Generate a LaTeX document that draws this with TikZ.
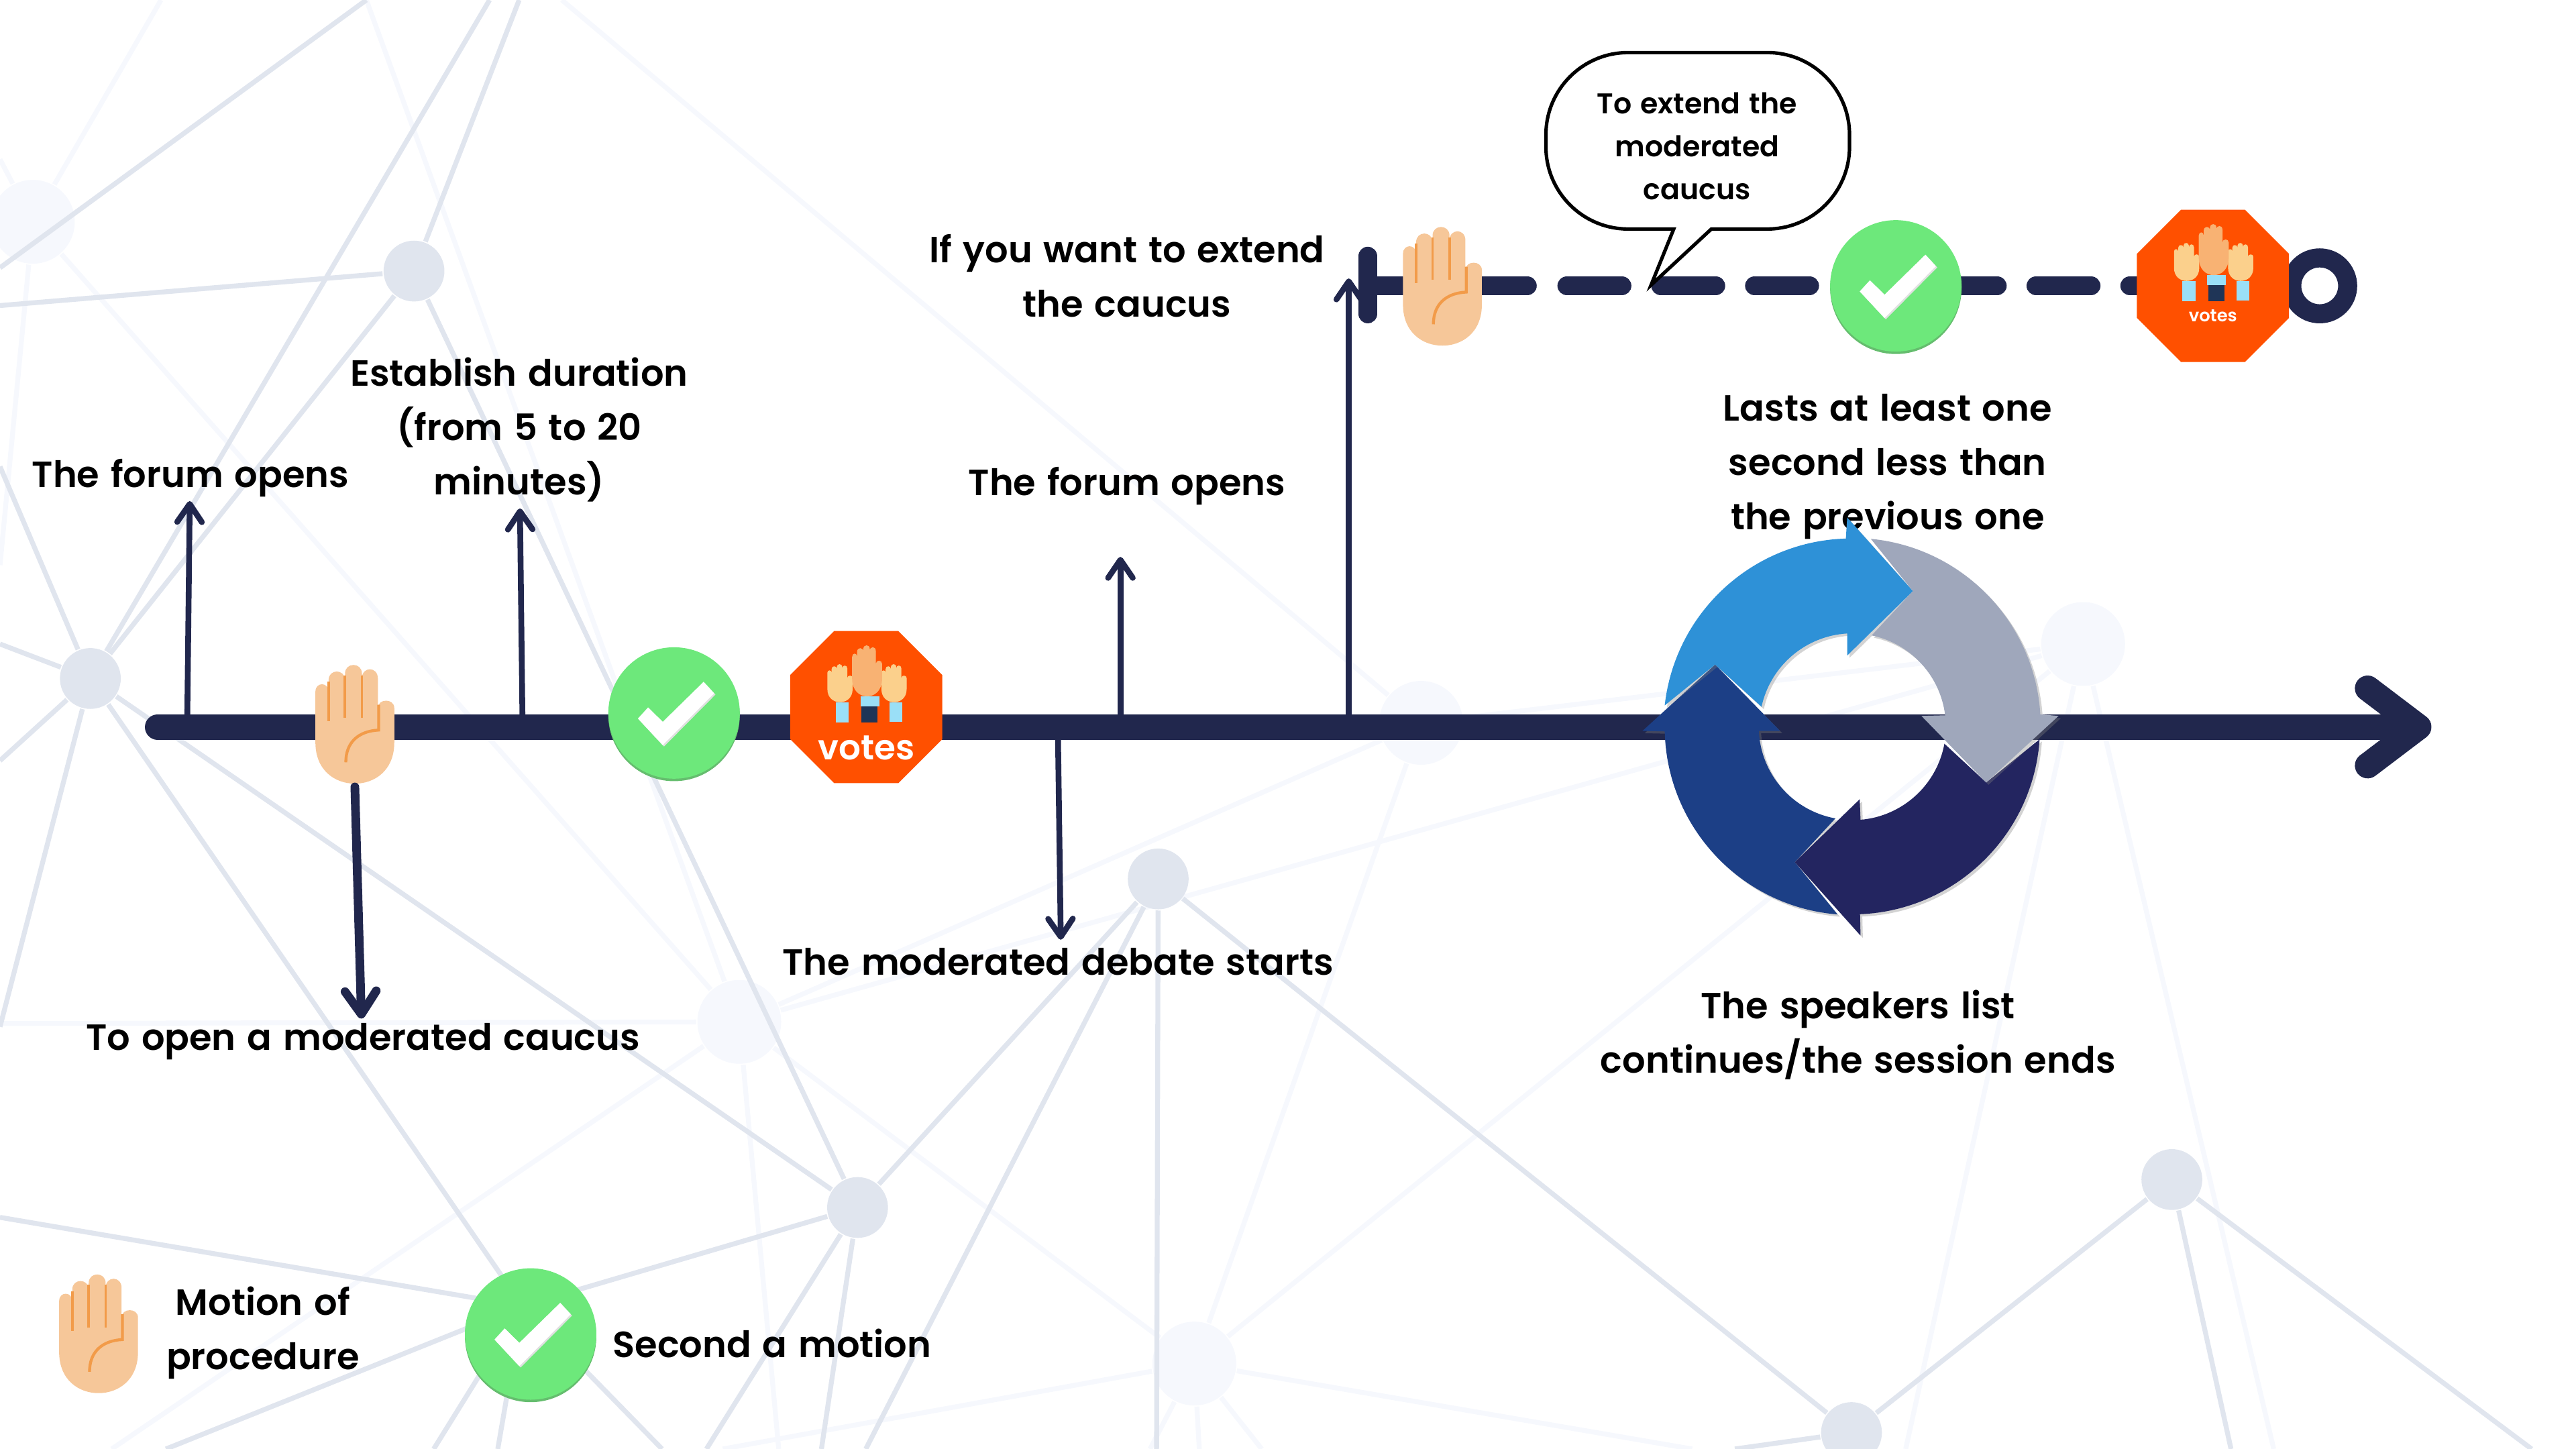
\documentclass[tikz,border=0pt]{standalone}
\usepackage{fontspec}
\setmainfont{Poppins}[UprightFont=* SemiBold,WordSpace=1.3]
\usetikzlibrary{arrows.meta,shadows}

\definecolor{netdark}{HTML}{E0E5EE}
\definecolor{netfaint}{HTML}{F6F8FD}
\definecolor{barnavy}{HTML}{21274D}
\definecolor{skin}{HTML}{F6C799}
\definecolor{skinline}{HTML}{F29B49}
\definecolor{okgreen}{HTML}{6DE87B}
\definecolor{okedge}{HTML}{65BD6E}
\definecolor{voteorange}{HTML}{FF5000}
\definecolor{handpale}{HTML}{FBD08C}
\definecolor{handtan}{HTML}{F8B273}
\definecolor{cuffblue}{HTML}{9ADFF7}
\definecolor{sleevenavy}{HTML}{1F3557}
\definecolor{wheelsky}{HTML}{2E91D7}
\definecolor{wheelgrey}{HTML}{9FA7BB}
\definecolor{wheelnavy}{HTML}{232560}
\definecolor{wheelblue}{HTML}{1C3F86}

\newcommand{\handpath}{(-24,11) -- (-24,-20) .. controls (-24,-26) and (-16,-26) .. (-16,-20) -- (-16,-27) .. controls (-16,-34) and (-6,-34) .. (-6,-27) -- (-6,-31) .. controls (-6,-38) and (4.3,-38) .. (4.3,-31) -- (4.3,-28) .. controls (4.3,-35.5) and (14,-35.5) .. (14,-28) -- (14,-10) .. controls (14,-16) and (24,-16) .. (24,-10) -- (24,11) .. controls (24,28) and (12,36) .. (0,36) .. controls (-12,36) and (-24,28) .. (-24,11) -- cycle}

\tikzset{
    netnode/.style={circle,fill=netdark,minimum size=.37cm,inner sep=0pt},
    faintnode/.style={circle,fill=netfaint,minimum size=.51cm,inner sep=0pt},
    netline/.style={netdark,line width=.85pt},
    faintline/.style={netfaint,line width=.85pt},
    mainbar/.style={barnavy,line width=4.43pt,line cap=round,-{Straight Barb[round,length=3.1mm,width=4.7mm]}},
    thinarrow/.style={barnavy,line width=1pt,-{Straight Barb[round,length=1.1mm,width=1.5mm]}},
    thickarrow/.style={barnavy,line width=1.5pt,line cap=round,-{Straight Barb[round,length=1.4mm,width=1.9mm]}},
    dashbar/.style={barnavy,line width=3.3pt,line cap=round},
    bigtext/.style={align=center,font=\fontsize{6.3}{9.4}\selectfont},
    smalltext/.style={align=center,font=\fontsize{4.95}{7.4}\selectfont},
    wheelpart/.style={drop shadow={shadow xshift=.4pt,shadow yshift=-.4pt,opacity=.35}},
    pics/handsign/.style={code={
        \fill[skin] \handpath;
        \draw[skinline,line width=.45pt] (-16,-26) -- (-16,-2);
        \draw[skinline,line width=.45pt] (-6,-30) -- (-6,-4);
        \draw[skinline,line width=.45pt] (4.3,-30) -- (4.3,-4);
        \draw[skinline,line width=.5pt] (14.5,-12) -- (14.5,3.4) .. controls (2,4) and (-5.5,11) .. (-5.5,23);
    }},
    pics/checksign/.style={code={
        \fill[okedge] (0,1.5) circle [radius=40];
        \fill[okgreen] (0,0) circle [radius=40];
        \fill[black!12] (18.7,-18.2) -- (25.2,-11.2) -- (-6.1,20.4) -- (-21.2,4.2) -- (-15,-2.6) -- (-6.1,6.2) -- cycle;
        \fill[white] (18,-19) -- (24.4,-12) -- (-6.9,19.6) -- (-22,3.4) -- (-15.8,-3.4) -- (-6.9,5.4) -- cycle;
    }},
    pics/votesign/.style args={#1/#2}{code={
        \fill[voteorange] (-19.5,-46.3) -- (19.5,-46.3) -- (46.3,-19.5) -- (46.3,19.5) -- (19.5,46.3) -- (-19.5,46.3) -- (-46.3,19.5) -- (-46.3,-19.5) -- cycle;
        \fill[cuffblue] (-18.6,-3) rectangle (-10.6,9.2);
        \fill[cuffblue] (14.3,-3) rectangle (22,8.8);
        \fill[sleevenavy] (-2.9,-.3) rectangle (6.9,9.2);
        \fill[cuffblue] (-3.4,-6.5) rectangle (8,-.3);
        \fill[handpale,shift={(-16,-14.5)},scale=.32] \handpath;
        \fill[handpale,shift={(16.9,-14.5)},scale=.32] \handpath;
        \fill[handtan,shift={(.5,-22)},xscale=.38,yscale=.43] \handpath;
        \node (-votes) at (0,#1) [text=white,font=\fontsize{#2}{#2}\selectfont] {votes};
    }}
}

\begin{document}
\begin{tikzpicture}[x=.01cm,y=-.01cm]
                \useasboundingbox (0,0) rectangle (1568,882);

                % background network
                \foreach \name/\xpos/\ypos in {ta/223/0,tb/316/0,tc/298/0,td/98/0,te/342/0,
                    la/0/163,lb/0/186,lc/0/392,ld/0/284,le/0/463,lf/0/625,lg/0/741,lh/0/344,li/0/97,lj/0/623,
                    ba/101/882,bb/264/882,bc/303/882,bd/403/882,be/430/882,bf/500/882,bg/527/882,bh/704/882,
                    bi/1056/882,bj/1160/882,bk/1358/882,bl/1541/882,bm/1384/882,bn/68/882,bo/474/882,
                    bp/1030/882,bq/440/882,br/700/882,bs/730/882,bt/768/882,hub/318/795}
                    \coordinate (\name) at (\xpos,\ypos);

                \foreach \name/\xpos/\ypos in {fa/20/135,fb/450/622,fc/865/440,fd/1268/392,fe/727/830}
                    \node (\name) at (\xpos,\ypos) [faintnode] {};
                \foreach \from/\to in {td/fa,fa/lh,fa/li,fa/fb,ta/fb,te/fc,fb/lj,fb/bn,fb/bo,fb/fe,fb/fc,fb/fd,
                    fc/fd,fc/fe,fe/fd,fe/bp,fe/bq,fe/br,fe/bs,fe/bt,fd/bm,fd/bj}
                    \draw[faintline] (\from) -- (\to);

                \node (nb) at (252,165) [netnode] {};
                \node (na) at (55,413) [netnode] {};
                \node (nc) at (705,535) [netnode] {};
                \node (nd) at (522,735) [netnode] {};
                \node (ne) at (1322,718) [netnode] {};
                \node (nf) at (1127,872) [netnode] {};
                \foreach \from/\to in {la/ta,lb/nb,nb/tb,tc/na,nb/na,nb/nd,na/lc,na/ld,na/le,na/lf,na/hub,na/nd,
                    hub/lg,hub/ba,hub/bb,hub/bc,hub/bd,hub/nd,nd/nc,nd/be,nd/bf,nc/bg,nc/bh,nc/nf,ne/nf,ne/bl,ne/bk,nf/bi}
                    \draw[netline] (\from) -- (\to);

                % labels
                \node (forumone) at (116,291) [bigtext] {The forum opens};
                \node (duration) at (316,261.5) [bigtext] {Establish duration \\ (from 5 to 20 \\ minutes)};
                \node (openmod) at (221,634) [bigtext] {To open a moderated caucus};
                \node (debate) at (644,585.5) [bigtext] {The moderated debate starts};
                \node (forumtwo) at (686,296) [bigtext] {The forum opens};
                \node (extendif) at (686,168) [bigtext] {If you want to extend \\ the caucus};
                \node (lasts) at (1149,284) [bigtext] {Lasts at least one \\ second less than \\ the previous one};
                \node (speakers) at (1131,630) [bigtext] {The speakers list \\ continues/the session ends};
                \node (motion) at (160,811.5) [bigtext] {Motion of \\ procedure};
                \node (second) at (470,817.5) [bigtext] {Second a motion};

                % main line
                \coordinate (barstart) at (96,442.5);
                \coordinate (barend) at (1480,442.5);
                \draw[mainbar] (barstart) -- (barend);

                % arrows off the main line
                \coordinate (forumfoot) at (114,436);
                \coordinate (forumtip) at (115.5,305);
                \coordinate (durfoot) at (318,436);
                \coordinate (durtip) at (316.5,309.5);
                \coordinate (debatefoot) at (644,449);
                \coordinate (debatetip) at (645.7,572);
                \coordinate (forumfoottwo) at (682,436);
                \coordinate (forumtiptwo) at (682,339);
                \coordinate (extendfoot) at (821,436);
                \coordinate (extendtip) at (821,169.5);
                \coordinate (handtip) at (220,620);
                \draw[thinarrow] (forumfoot) -- (forumtip);
                \draw[thinarrow] (durfoot) -- (durtip);
                \draw[thinarrow] (debatefoot) -- (debatetip);
                \draw[thinarrow] (forumfoottwo) -- (forumtiptwo);
                \draw[thinarrow] (extendfoot) -- (extendtip);

                % upper line
                \coordinate (stoptop) at (832.5,156);
                \coordinate (stopbot) at (832.5,191);
                \coordinate (dashstart) at (838,174);
                \coordinate (dashone) at (929.6,174);
                \coordinate (dashtwo) at (953.8,174);
                \coordinate (dashend) at (1300,174);
                \draw[dashbar] (stoptop) -- (stopbot);
                \draw[dashbar] (dashstart) -- (dashone);
                \draw[dashbar,dash pattern=on 9.5pt off 6.74pt] (dashtwo) -- (dashend);
                \node (ring) at (1412,174) [circle,draw=barnavy,line width=3.3pt,fill=white,minimum size=.34cm,inner sep=0pt] {};

                % hands, marks and votes
                \pic (handmain) at (216,441) {handsign};
                \coordinate (handfoot) at (216,479);
                \draw[thickarrow] (handfoot) -- (handtip);
                \pic (checkmain) at (410.3,434) {checksign};
                \pic (votesmain) at (527.3,430.4) {votesign={25/6}};
                \pic (handtop) at (878,174.4) {handsign};
                \pic (checktop) at (1154,174) {checksign};
                \pic (votestop) at (1347,174) {votesign={18/3}};
                \pic (handkey) at (60,812) {handsign};
                \pic (checkkey) at (323,812) {checksign};

                % speech bubble
                \draw[fill=white,line width=.6pt] (1005,173.5) -- (1041.7,139.4) [rounded corners=.5cm] -- (1125.8,139.4) -- (1125.8,32) -- (941,32) -- (941,139.4) [sharp corners] -- (1018.8,139.4) -- cycle;
                \node (bubble) at (1033,89) [smalltext] {To extend the \\ moderated \\ caucus};

                % wheel of four arrows
                \fill[wheelblue,wheelpart] (1118.5,556.6) arc[start angle=-94.6,end angle=-178.7,radius=1.143cm] -- (999.8,444.9) -- (1044,404.5) -- (1083.5,444.9) -- (1070.6,444.9) arc[start angle=-177.4,end angle=-100.2,radius=.567cm] -- (1092.5,524.8) -- cycle;
                \fill[wheelsky,wheelpart] (1013.3,429.4) arc[start angle=173.6,end angle=91.7,radius=1.143cm] -- (1124.4,315) -- (1164.4,359.8) -- (1124.4,399) -- (1124.4,385.6) arc[start angle=93.3,end angle=167.8,radius=.567cm] -- (1044,404.5) -- cycle;
                \fill[wheelnavy,wheelpart] (1241.5,450) arc[start angle=-3.9,end angle=-87.6,radius=1.143cm] -- (1132.5,569.5) -- (1092.5,524.8) -- (1132,486.5) -- (1132.5,499) arc[start angle=-85.2,end angle=-10.4,radius=.567cm] -- (1209,476.3) -- cycle;
                \fill[wheelgrey,wheelpart] (1138.75,328) arc[start angle=84.5,end angle=3.5,radius=1.143cm] -- (1253,435.8) -- (1209,476.3) -- (1169.6,435.8) -- (1184,435.4) arc[start angle=7,end angle=78.2,radius=.567cm] -- (1164.4,359.8) -- cycle;
            \end{tikzpicture}
\end{document}
